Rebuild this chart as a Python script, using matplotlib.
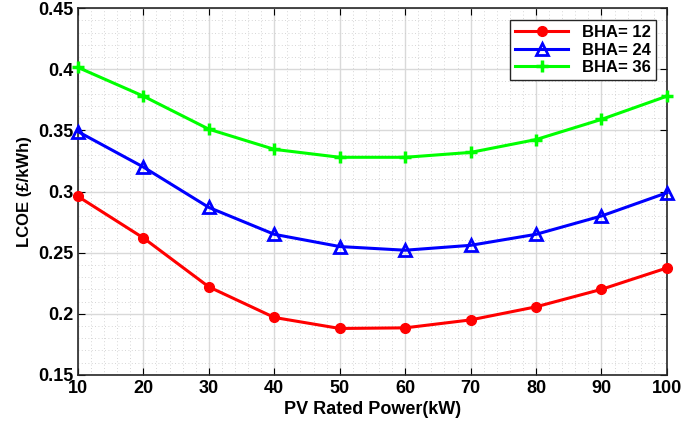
import matplotlib
matplotlib.use("Agg")
import matplotlib.pyplot as plt
from matplotlib.ticker import MultipleLocator

plt.rcParams['font.family'] = ['Liberation Sans', 'DejaVu Sans']
plt.rcParams['font.weight'] = 'bold'

pv_power = [10, 20, 30, 40, 50, 60, 70, 80, 90, 100]
lcoe_bha12 = [0.296, 0.262, 0.222, 0.197, 0.188, 0.1885, 0.195, 0.2057, 0.220, 0.2375]
lcoe_bha24 = [0.349, 0.320, 0.287, 0.265, 0.255, 0.252, 0.256, 0.265, 0.280, 0.299]
lcoe_bha36 = [0.4015, 0.378, 0.351, 0.3345, 0.328, 0.328, 0.332, 0.3425, 0.359, 0.378]
y_ticks = [0.15, 0.2, 0.25, 0.3, 0.35, 0.4, 0.45]
y_labels = ["0.15", "0.2", "0.25", "0.3", "0.35", "0.4", "0.45"]

fig, ax = plt.subplots(figsize=(6.84, 4.28), dpi=100)
fig.subplots_adjust(left=0.114, right=0.975, top=0.981, bottom=0.124)

ax.plot(pv_power, lcoe_bha12, color='red', lw=2.2, marker='o', ms=7,
        clip_on=False, zorder=3, label='BHA= 12')
ax.plot(pv_power, lcoe_bha24, color='blue', lw=2.2, marker='^', ms=9,
        mfc='none', mew=2, clip_on=False, zorder=3, label='BHA= 24')
ax.plot(pv_power, lcoe_bha36, color='#00ff00', lw=2.2, marker='+', ms=8,
        mew=2.5, clip_on=False, zorder=3, label='BHA= 36')

ax.set_xlim(10, 100)
ax.set_ylim(0.15, 0.45)
ax.set_xticks(pv_power)
ax.set_yticks(y_ticks)
ax.set_yticklabels(y_labels)
ax.xaxis.set_minor_locator(MultipleLocator(2))
ax.yaxis.set_minor_locator(MultipleLocator(0.01))
ax.grid(which='major', color='#d9d9d9', lw=1)
ax.grid(which='minor', color='#c8c8c8', lw=0.6, ls=(0, (1, 3)))
ax.tick_params(which='minor', length=0)
ax.tick_params(which='major', direction='in', length=5, labelsize=13, top=True, right=True)
for s in ax.spines.values():
    s.set_linewidth(1.2)
    s.set_color('#262626')

ax.set_xlabel('PV Rated Power(kW)', fontsize=13, fontweight='bold', labelpad=3)
ax.set_ylabel('LCOE (£/kWh)', fontsize=12, fontweight='bold')

leg = ax.legend(loc='upper right', fontsize=12, fancybox=False, framealpha=1,
                edgecolor='#262626', handlelength=3.2, borderpad=0.3,
                labelspacing=0.15, bbox_to_anchor=(0.995, 0.99))
leg.get_frame().set_linewidth(1)

fig.savefig('out.png', dpi=100)
